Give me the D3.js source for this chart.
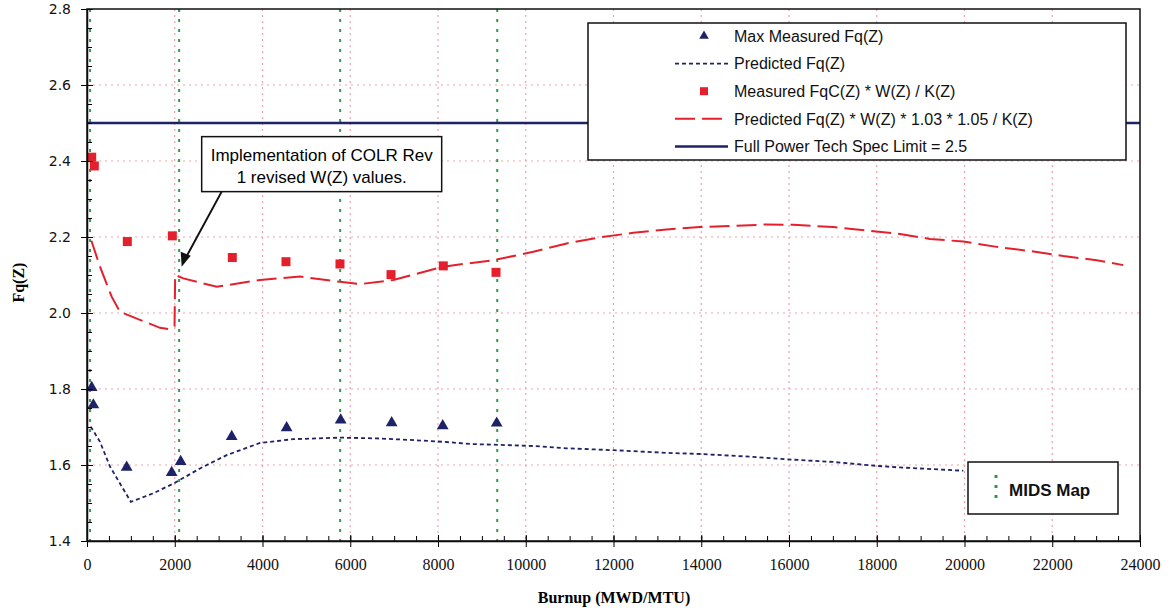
<!DOCTYPE html>
<html>
<head>
<meta charset="utf-8">
<script src="https://cdn.jsdelivr.net/npm/d3@7"></script>
<style>
  body { margin: 0; background: #fff; }
  svg { display: block; }
</style>
</head>
<body>
<svg id="chart"></svg>
<script>
// measured points (burnup MWD/MTU)
const maxMeasX = [107, 145, 904, 1930, 2135, 3298, 4550, 5782, 6944, 8107, 9338];
const maxMeasY = [1.804, 1.758, 1.594, 1.580, 1.609, 1.675, 1.698, 1.718, 1.711, 1.703, 1.710];

const measWX = [107, 167, 919, 1945, 3312, 4535, 5766, 6929, 8121, 9322];
const measWY = [2.410, 2.387, 2.188, 2.203, 2.146, 2.135, 2.129, 2.101, 2.124, 2.107];

// predicted Fq(Z)
const predX = [84, 296, 524, 1000, 1500, 2000, 2576, 3184, 3943, 4702, 5766, 6603, 7362, 8121,
  8805, 9413, 10172, 10933, 11995, 13212, 13972, 15111, 15947, 17010, 17960, 18455, 19973];
const predY = [1.701, 1.661, 1.596, 1.503, 1.525, 1.553, 1.591, 1.626, 1.658, 1.668, 1.672, 1.670,
  1.666, 1.661, 1.655, 1.653, 1.650, 1.644, 1.639, 1.632, 1.629, 1.622, 1.615, 1.608, 1.598, 1.594, 1.585];

// predicted Fq(Z)*W(Z)*1.03*1.05/K(Z)
const predWX = [100, 296, 562, 752, 1208, 1664, 1853, 1995, 2010, 2196, 2955, 3943, 4855, 5766,
  6222, 6982, 8121, 9260, 10172, 10933, 11692, 12452, 13212, 13972, 14731, 15491, 16099, 17010,
  17771, 18530, 19214, 19973, 20734, 21493, 22252, 23012, 23620];
const predWY = [2.19, 2.122, 2.043, 2.003, 1.982, 1.961, 1.958, 1.965, 2.100, 2.091, 2.069, 2.087,
  2.096, 2.082, 2.076, 2.087, 2.122, 2.139, 2.161, 2.183, 2.199, 2.211, 2.220, 2.226, 2.229, 2.233,
  2.232, 2.226, 2.217, 2.208, 2.195, 2.188, 2.174, 2.163, 2.150, 2.139, 2.126];

const specLimit = 2.5;
const midsMapX = [70, 2100, 5770, 9350];

const xTicks = d3.range(0, 24001, 2000);
const yTicks = [1.4, 1.6, 1.8, 2.0, 2.2, 2.4, 2.6, 2.8];

const legendLabels = [
  "Max Measured Fq(Z)",
  "Predicted Fq(Z)",
  "Measured FqC(Z) * W(Z) / K(Z)",
  "Predicted Fq(Z) * W(Z) * 1.03 * 1.05 / K(Z)",
  "Full Power Tech Spec Limit = 2.5"
];

const W = 1170, H = 610;
const navy = "#1e2266", red = "#e3202c", green = "#2f9a4f", grid = "#f2a0a8";

const svg = d3.select("#chart").attr("width", W).attr("height", H);

const x = d3.scaleLinear().domain([0, 24000]).range([87, 1140]);
const y = d3.scaleLinear().domain([1.4, 2.8]).range([541, 9]);

// 网格
const g = svg.append("g");
g.append("g").selectAll("line").data(xTicks.slice(1, -1)).join("line")
  .attr("x1", d => x(d)).attr("x2", d => x(d))
  .attr("y1", y(2.8)).attr("y2", y(1.4))
  .attr("stroke", grid).attr("stroke-width", 1.2).attr("stroke-dasharray", "2,4");
g.append("g").selectAll("line").data(yTicks.slice(1, -1)).join("line")
  .attr("x1", x(0)).attr("x2", x(24000))
  .attr("y1", d => y(d)).attr("y2", d => y(d))
  .attr("stroke", grid).attr("stroke-width", 1.2).attr("stroke-dasharray", "2,4");

// MIDS map lines
g.append("g").selectAll("line").data(midsMapX).join("line")
  .attr("x1", d => x(d)).attr("x2", d => x(d))
  .attr("y1", y(2.8)).attr("y2", y(1.4))
  .attr("stroke", green).attr("stroke-width", 2).attr("stroke-dasharray", "3,7");

// spec limit
g.append("line")
  .attr("x1", x(0)).attr("x2", x(24000))
  .attr("y1", y(specLimit)).attr("y2", y(specLimit))
  .attr("stroke", navy).attr("stroke-width", 2.5);

const line = d3.line().x(d => x(d[0])).y(d => y(d[1]));

g.append("path")
  .datum(d3.zip(predWX, predWY))
  .attr("d", line).attr("fill", "none")
  .attr("stroke", red).attr("stroke-width", 2).attr("stroke-dasharray", "20,7");

g.append("path")
  .datum(d3.zip(predX, predY))
  .attr("d", line).attr("fill", "none")
  .attr("stroke", navy).attr("stroke-width", 1.8).attr("stroke-dasharray", "4,3");

const tri = d3.symbol().type(d3.symbolTriangle).size(60);
g.append("g").selectAll("path").data(d3.zip(maxMeasX, maxMeasY)).join("path")
  .attr("transform", d => `translate(${x(d[0])},${y(d[1])})`)
  .attr("d", tri).attr("fill", navy);

g.append("g").selectAll("rect").data(d3.zip(measWX, measWY)).join("rect")
  .attr("x", d => x(d[0]) - 4.5).attr("y", d => y(d[1]) - 4.5)
  .attr("width", 9).attr("height", 9).attr("fill", red);

// 坐标轴
const xAxis = svg.append("g").attr("transform", `translate(0,${y(1.4)})`);
xAxis.append("g").call(d3.axisBottom(x).tickValues(d3.range(500, 24000, 500)).tickSize(-5).tickFormat(""))
  .call(a => a.select(".domain").remove());
xAxis.append("g").call(d3.axisBottom(x).tickValues(xTicks).tickSizeInner(12).tickSizeOuter(0).tickFormat(d3.format("d")).tickPadding(6))
  .call(a => a.selectAll(".tick line").attr("y1", -6).attr("y2", 6))
  .call(a => a.select(".domain").attr("stroke-width", 1.5))
  .call(a => a.selectAll("text").attr("font-family", "Liberation Serif").attr("font-size", 16).attr("fill", "#111"));

const yAxis = svg.append("g").attr("transform", `translate(${x(0)},0)`);
yAxis.append("g").call(d3.axisLeft(y).tickValues(d3.range(1.45, 2.8, 0.05)).tickSize(-5).tickFormat(""))
  .call(a => a.select(".domain").remove());
yAxis.append("g").call(d3.axisLeft(y).tickValues(yTicks).tickSizeOuter(0).tickFormat(d3.format(".1f")).tickPadding(10))
  .call(a => a.selectAll(".tick line").attr("x1", -6).attr("x2", 6))
  .call(a => a.select(".domain").attr("stroke-width", 1.5))
  .call(a => a.selectAll("text").attr("font-family", "DejaVu Sans").attr("font-size", 14).attr("fill", "#111"));

// 边框
svg.append("rect")
  .attr("x", x(0)).attr("y", y(2.8))
  .attr("width", x(24000) - x(0)).attr("height", y(1.4) - y(2.8))
  .attr("fill", "none").attr("stroke", "#111").attr("stroke-width", 1.5);

svg.append("text").text("Fq(Z)")
  .attr("transform", `translate(20,${y(2.08)}) rotate(-90)`)
  .attr("text-anchor", "middle").attr("dominant-baseline", "middle")
  .attr("font-family", "Liberation Serif").attr("font-weight", "bold").attr("font-size", 16);

svg.append("text").text("Burnup (MWD/MTU)")
  .attr("x", 614).attr("y", 603)
  .attr("text-anchor", "middle")
  .attr("font-family", "Liberation Serif").attr("font-weight", "bold").attr("font-size", 16);

// 注释
const tipX = x(2158), tipY = y(2.122);
const ann = svg.append("g");
ann.append("line")
  .attr("x1", tipX + 40).attr("y1", tipY - 75)
  .attr("x2", tipX + 2).attr("y2", tipY - 5)
  .attr("stroke", "#111").attr("stroke-width", 2);
ann.append("path")
  .attr("d", d3.line()([[tipX, tipY], [tipX - 1, tipY - 15], [tipX + 9, tipY - 11]]))
  .attr("fill", "#111");
ann.append("rect")
  .attr("x", tipX + 20).attr("y", tipY - 130)
  .attr("width", 240).attr("height", 55)
  .attr("fill", "#fff").attr("stroke", "#111").attr("stroke-width", 1.5);
ann.append("text")
  .attr("x", tipX + 140).attr("y", tipY - 106)
  .attr("text-anchor", "middle")
  .attr("font-family", "Liberation Sans").attr("font-size", 17)
  .selectAll("tspan").data(["Implementation of COLR Rev", "1 revised W(Z) values."]).join("tspan")
  .attr("x", tipX + 140).attr("dy", (d, i) => i ? 22 : 0).text(d => d);

// 图例
const lg = svg.append("g").attr("transform", "translate(588,23)");
lg.append("rect").attr("width", 538).attr("height", 137)
  .attr("fill", "#fff").attr("stroke", "#111").attr("stroke-width", 1.5);
const row = i => 13 + i * 27.6;
lg.append("path").attr("transform", `translate(116,${row(0)})`).attr("d", d3.symbol().type(d3.symbolTriangle).size(40)).attr("fill", navy);
lg.append("line").attr("x1", 87).attr("x2", 140).attr("y1", row(1)).attr("y2", row(1))
  .attr("stroke", navy).attr("stroke-width", 1.8).attr("stroke-dasharray", "4,3");
lg.append("rect").attr("x", 112).attr("y", row(2) - 4).attr("width", 8).attr("height", 8).attr("fill", red);
lg.append("line").attr("x1", 87).attr("x2", 140).attr("y1", row(3)).attr("y2", row(3))
  .attr("stroke", red).attr("stroke-width", 2).attr("stroke-dasharray", "20,7");
lg.append("line").attr("x1", 87).attr("x2", 140).attr("y1", row(4)).attr("y2", row(4))
  .attr("stroke", navy).attr("stroke-width", 2.5);
lg.append("g").selectAll("text").data(legendLabels).join("text")
  .attr("x", 146).attr("y", (d, i) => row(i)).attr("dy", "0.36em")
  .attr("font-family", "Liberation Sans").attr("font-size", 16).attr("fill", "#111")
  .text(d => d);

// MIDS Map 图例
const mm = svg.append("g").attr("transform", "translate(968,462)");
mm.append("rect").attr("width", 150).attr("height", 52)
  .attr("fill", "#fff").attr("stroke", "#111").attr("stroke-width", 1.5);
mm.append("line").attr("x1", 28).attr("x2", 28).attr("y1", 13).attr("y2", 40)
  .attr("stroke", green).attr("stroke-width", 3).attr("stroke-dasharray", "3,7");
mm.append("text").text("MIDS Map").attr("x", 41).attr("y", 28).attr("dy", "0.36em")
  .attr("font-family", "Liberation Sans").attr("font-weight", "bold").attr("font-size", 17).attr("fill", "#111");
</script>
</body>
</html>
